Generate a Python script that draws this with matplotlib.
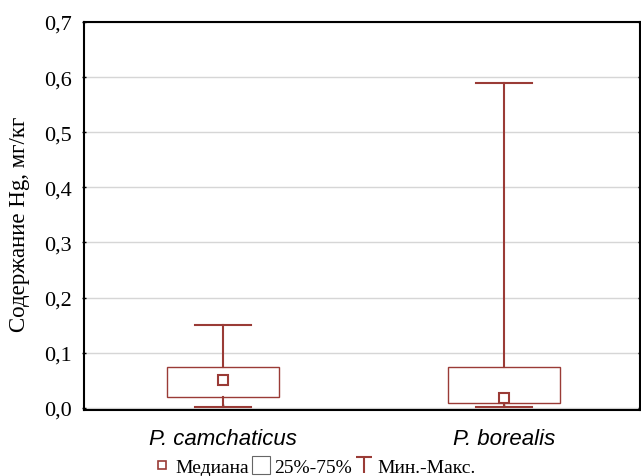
import numpy as np
import matplotlib.pyplot as plt
from matplotlib.lines import Line2D
from matplotlib.patches import Rectangle
from matplotlib.path import Path

# данные: содержание Hg, мг/кг
species = ['P. camchaticus', 'P. borealis']
q25 = [0.020, 0.008]
q75 = [0.074, 0.074]
median = [0.050, 0.018]
vmin = [0.001, 0.002]
vmax = [0.150, 0.590]
yticks = [0.0, 0.1, 0.2, 0.3, 0.4, 0.5, 0.6, 0.7]

col = '#9a3b36'
plt.rcParams['font.family'] = 'Liberation Serif'

fig = plt.figure(figsize=(6.41, 4.77), dpi=100)
ax = fig.add_axes([84/641, 1-411/477, 556/641, 388/477])

pos = np.arange(len(species))
bw = 0.4
cw = 0.2
for i in pos:
    ax.add_patch(Rectangle((i - bw/2, q25[i]), bw, q75[i] - q25[i],
                           fill=False, ec=col, lw=1.0, zorder=3))
    ax.plot([i, i], [q75[i], vmax[i]], color=col, lw=1.5, zorder=3)
    ax.plot([i, i], [vmin[i], q25[i]], color=col, lw=1.5, zorder=3)
    ax.plot([i - cw/2, i + cw/2], [vmax[i], vmax[i]], color=col, lw=1.5, zorder=3)
    ax.plot([i - cw/2, i + cw/2], [vmin[i], vmin[i]], color=col, lw=1.5, zorder=3)
    ax.plot(i, median[i], 's', ms=7, mfc='white', mec=col, mew=1.5, zorder=4)

ax.set_xlim(-0.497, 1.486)
ax.set_ylim(-0.004, 0.7)
ax.set_yticks(yticks)
ax.set_yticklabels([f'{t:.1f}'.replace('.', ',') for t in yticks], fontsize=16)
ax.set_xticks(pos)
ax.set_xticklabels(species, fontsize=16, family='Liberation Sans', style='italic')
ax.tick_params(axis='x', length=4, direction='in', width=1, pad=13)
ax.tick_params(axis='y', length=3, direction='inout', width=1, right=True, pad=7)
ax.grid(axis='y', color='#d6d6d6', lw=1)
ax.set_axisbelow(True)
for s in ax.spines.values():
    s.set_linewidth(1.5)
ax.set_ylabel('Содержание Hg, мг/кг', fontsize=16.5)
ax.yaxis.set_label_coords(-(84-30)/556, 0.48)

tee = Path([(-1, 1), (1, 1), (0, 1), (0, -1)],
           [Path.MOVETO, Path.LINETO, Path.MOVETO, Path.LINETO])
handles = [
    Line2D([], [], ls='none', marker='s', ms=6, mfc='white', mec=col, mew=1.2),
    Line2D([], [], ls='none', marker='s', ms=13, mfc='white', mec='#666666', mew=0.8),
    Line2D([], [], ls='none', marker=tee, ms=12, mfc='none', mec=col, mew=1.5),
]
fig.legend(handles, ['Медиана', '25%-75%', 'Мин.-Макс.'], loc='center',
           bbox_to_anchor=(315/641, 1-468/477), ncol=3, frameon=False,
           fontsize=14, handlelength=0.8, handletextpad=0.3, columnspacing=0.2,
           borderpad=0)

fig.savefig('out.png', dpi=100)
